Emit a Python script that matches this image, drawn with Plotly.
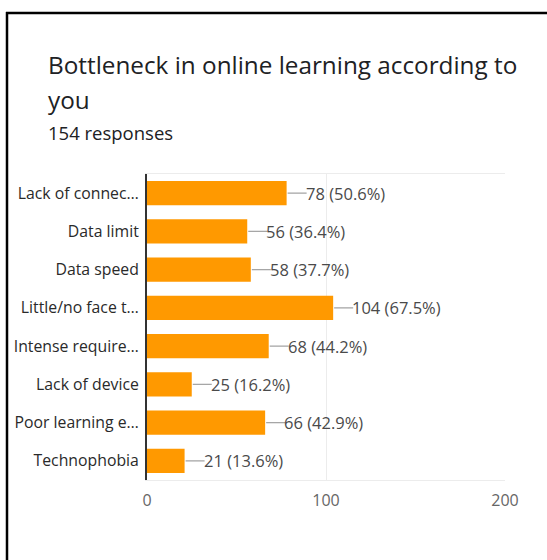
import plotly.graph_objects as go

# Survey results: bottlenecks in online learning (154 respondents)
categories = [
    "Lack of connec…",
    "Data limit",
    "Data speed",
    "Little/no face t…",
    "Intense require…",
    "Lack of device",
    "Poor learning e…",
    "Technophobia",
]
counts = [78, 56, 58, 104, 68, 25, 66, 21]
total_responses = 154
x_ticks = [0, 100, 200]

W, H = 547, 560
L, R, T, B = 147, 42, 174, 80
PW, PH = W - L - R, H - T - B


def px_x(px):
    """Page x pixel -> paper coordinate."""
    return (px - L) / PW


def px_y(py):
    """Page y pixel -> paper coordinate."""
    return (H - B - py) / PH


bar_color = "#ff9900"
font_family = "Open Sans, Roboto, Arial, sans-serif"

fig = go.Figure(
    go.Bar(
        x=counts,
        y=categories,
        orientation="h",
        marker=dict(color=bar_color, line=dict(width=0)),
        hoverinfo="x+y",
    )
)

shapes = []
annotations = []

# Leader line and value label beside each bar
for cat, v in zip(categories, counts):
    shapes.append(dict(
        type="line", xref="x", yref="y", xsizemode="pixel", xanchor=v,
        x0=1, x1=20, y0=cat, y1=cat,
        line=dict(color="#a6a6a6", width=1.3),
    ))
    pct = v / total_responses * 100
    annotations.append(dict(
        x=v, y=cat, xref="x", yref="y", xanchor="left", yanchor="middle",
        xshift=17, showarrow=False,
        text=f"{v} ({pct:.1f}%)",
        font=dict(family=font_family, size=16.5, color="#4a4a4a"),
    ))

# Heading and response count
annotations += [
    dict(x=px_x(46), y=px_y(65), xref="paper", yref="paper", xanchor="left",
         yanchor="middle", showarrow=False,
         text="Bottleneck in online learning according to",
         font=dict(family=font_family, size=24.3, color="#202124")),
    dict(x=px_x(46), y=px_y(100), xref="paper", yref="paper", xanchor="left",
         yanchor="middle", showarrow=False, text="you",
         font=dict(family=font_family, size=24.3, color="#202124")),
    dict(x=px_x(46), y=px_y(132), xref="paper", yref="paper", xanchor="left",
         yanchor="middle", showarrow=False, text=f"{total_responses} responses",
         font=dict(family=font_family, size=18.5, color="#202124")),
]

# Black frame along the top and left of the card
shapes += [
    dict(type="line", xref="paper", yref="paper",
         x0=px_x(6), x1=px_x(W + 5), y0=px_y(13), y1=px_y(13),
         line=dict(color="black", width=2.5)),
    dict(type="line", xref="paper", yref="paper",
         x0=px_x(7), x1=px_x(7), y0=px_y(12), y1=px_y(H + 5),
         line=dict(color="black", width=2.5)),
]

fig.update_layout(
    width=W, height=H,
    margin=dict(l=L, r=R, t=T, b=B, pad=0, autoexpand=False),
    paper_bgcolor="white", plot_bgcolor="white",
    showlegend=False,
    bargap=0.37,
    font=dict(family=font_family),
    shapes=shapes,
    annotations=annotations,
    xaxis=dict(
        range=[0, 200], tickvals=x_ticks, ticktext=[str(t) for t in x_ticks],
        showgrid=True, gridcolor="#ececec", gridwidth=1,
        zeroline=False, showline=True, mirror=True,
        linecolor="#ececec", linewidth=1,
        ticks="", ticklabelstandoff=6, automargin=False,
        tickfont=dict(family=font_family, size=16, color="#666666"),
        fixedrange=True,
    ),
    yaxis=dict(
        autorange="reversed", showgrid=False, zeroline=False,
        showline=True, linecolor="#333333", linewidth=2,
        ticks="", ticklabelstandoff=3, automargin=False,
        tickfont=dict(family=font_family, size=15.8, color="#2a2a2a"),
        fixedrange=True,
    ),
)

fig.write_html("out.html")
